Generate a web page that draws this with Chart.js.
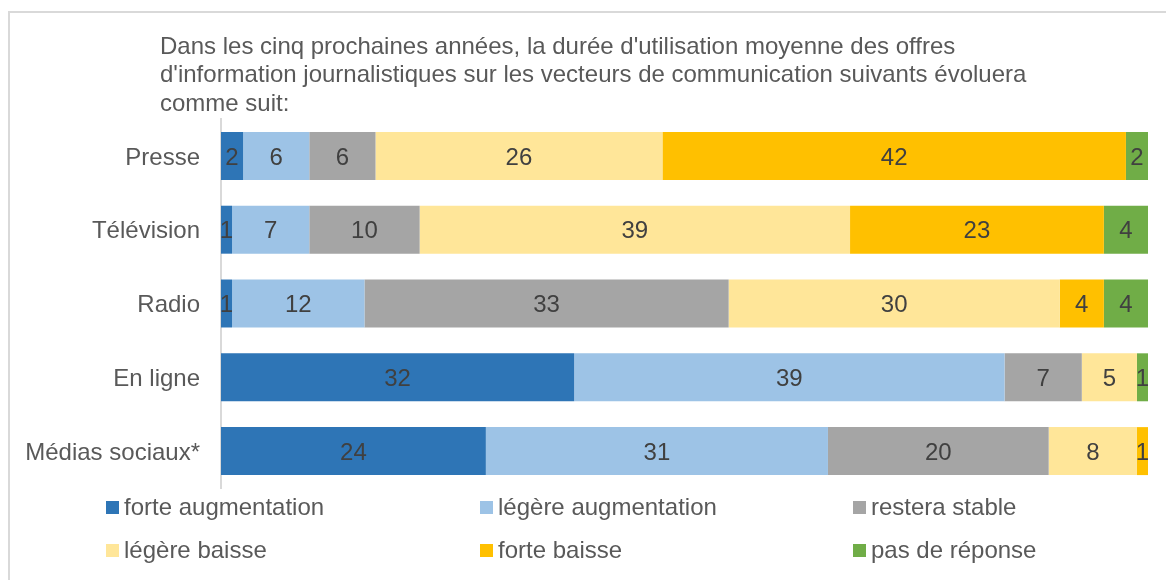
<!DOCTYPE html>
<html>
<head>
<meta charset="utf-8">
<script src="https://cdn.jsdelivr.net/npm/chart.js@4.4.1/dist/chart.umd.min.js"></script>
<style>
  body { margin: 0; background: #fff; }
  #wrap { position: relative; width: 1166px; height: 580px; overflow: hidden; }
  #frame { position: absolute; left: 8px; top: 11px; width: 1200px; height: 620px; border: 2px solid #d9d9d9; box-sizing: border-box; }
  canvas { position: absolute; left: 0; top: 0; }
</style>
</head>
<body>
<div id="wrap">
  <div id="frame"></div>
  <canvas id="myChart" width="1166" height="580"></canvas>
</div>
<script>
// données
var categories = ['Presse', 'Télévision', 'Radio', 'En ligne', 'Médias sociaux*'];
var forteAugmentation = [2, 1, 1, 32, 24];
var legereAugmentation = [6, 7, 12, 39, 31];
var resteraStable = [6, 10, 33, 7, 20];
var legereBaisse = [26, 39, 30, 5, 8];
var forteBaisse = [42, 23, 4, 0, 1];
var pasDeReponse = [2, 4, 4, 1, 0];
var titleLines = [
    "Dans les cinq prochaines années, la durée d'utilisation moyenne des offres",
    "d'information journalistiques sur les vecteurs de communication suivants évoluera",
    "comme suit:"
];

var FONT = '"Liberation Sans", Arial, sans-serif';
var SIZE = 24;

// valeurs au milieu de chaque segment
var valueLabels = {
    id: 'valueLabels',
    afterDatasetsDraw: function(chart) {
        var ctx = chart.ctx;
        ctx.save();
        ctx.font = SIZE + 'px ' + FONT;
        ctx.fillStyle = '#404040';
        ctx.textAlign = 'center';
        ctx.textBaseline = 'middle';
        chart.data.datasets.forEach(function(ds, i) {
            var meta = chart.getDatasetMeta(i);
            meta.data.forEach(function(el, j) {
                var v = ds.data[j];
                if (!v) return;
                ctx.fillText(String(v), (el.x + el.base) / 2, el.y + 2);
            });
        });
        ctx.restore();
    }
};

// titre et légende en 3 colonnes
var titleAndLegend = {
    id: 'titleAndLegend',
    afterDraw: function(chart) {
        var ctx = chart.ctx;
        ctx.save();
        ctx.font = SIZE + 'px ' + FONT;
        ctx.fillStyle = '#595959';
        ctx.textAlign = 'left';
        ctx.textBaseline = 'middle';
        titleLines.forEach(function(t, i) {
            ctx.fillText(t, 160, 47 + i * 28.5);
        });
        var colX = [106, 480, 853];
        var rowY = [507, 550];
        chart.data.datasets.forEach(function(ds, i) {
            var x = colX[i % 3];
            var y = rowY[Math.floor(i / 3)];
            ctx.fillStyle = ds.backgroundColor;
            ctx.fillRect(x, y - 6, 13, 13);
            ctx.fillStyle = '#595959';
            ctx.fillText(ds.label, x + 18, y + 1);
        });
        ctx.restore();
    }
};

var ctx = document.getElementById('myChart');
var myChart = new Chart(ctx, {
    type: 'bar',
    data: {
        labels: categories,
        datasets: [
            { label: 'forte augmentation', data: forteAugmentation, backgroundColor: '#2E75B6' },
            { label: 'légère augmentation', data: legereAugmentation, backgroundColor: '#9DC3E6' },
            { label: 'restera stable', data: resteraStable, backgroundColor: '#A5A5A5' },
            { label: 'légère baisse', data: legereBaisse, backgroundColor: '#FFE699' },
            { label: 'forte baisse', data: forteBaisse, backgroundColor: '#FFC000' },
            { label: 'pas de réponse', data: pasDeReponse, backgroundColor: '#70AD47' }
        ]
    },
    options: {
        indexAxis: 'y',
        responsive: false,
        animation: false,
        barPercentage: 0.65,
        categoryPercentage: 1,
        layout: { padding: { top: 119, bottom: 92, left: 0, right: 18 } },
        plugins: {
            legend: { display: false },
            title: { display: false },
            tooltip: { enabled: false }
        },
        scales: {
            x: {
                stacked: true,
                display: false,
                min: 0,
                max: 84
            },
            y: {
                stacked: true,
                grid: { display: false },
                border: { display: true, color: '#d9d9d9', width: 2 },
                ticks: {
                    color: '#595959',
                    font: { family: FONT, size: SIZE },
                    padding: 13,
                    labelOffset: 2
                },
                afterFit: function(scale) { scale.width = 221; }
            }
        }
    },
    plugins: [valueLabels, titleAndLegend]
});
</script>
</body>
</html>
